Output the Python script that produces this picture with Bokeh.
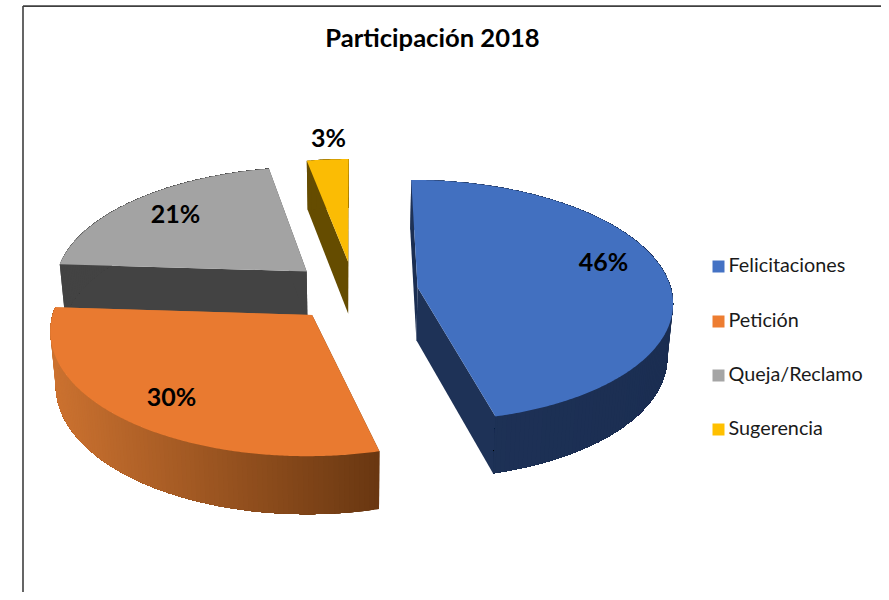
import numpy as np
from bokeh.plotting import figure
from bokeh.core.properties import value
from bokeh.embed import file_html
from bokeh.resources import INLINE

# ---- data ----
title = "Participación 2018"
categories = ["Felicitaciones", "Petición", "Queja/Reclamo", "Sugerencia"]
values = [46, 30, 21, 3]
top_colors = ["#4270C0", "#E97A30", "#A3A3A3", "#FBBC04"]
swatch_colors = ["#4472C4", "#ED7D31", "#A5A5A5", "#FFC000"]
wall_left = ["#1B2E52", "#693711", "#434343", "#654C00"]
wall_right = ["#1E3257", "#CC7230", "#434343", "#654C00"]

# ---- layout (pixel space of the picture) ----
W, H = 881, 592
CX, CY = 353.5, 290.6      # pie centre
RX, RY = 254.0, 120.0      # radii on the ground plane
EXPLODE = 0.253            # explosion distance in radii
PERSP = 0.11               # perspective strength
DEPTH = 53.0               # thickness of the pie
LEAN = 0.018               # walls lean toward the centre
label_pos = [(603, 260), (171, 395), (175, 212), (328, 136)]
legend_x_sw, legend_x_txt = 718, 728
legend_y = [266, 321, 375, 429]
legend_text_y = [263.5, 318.5, 372.5, 426.5]


def project(gx, gy, bottom=False):
    gx, gy = np.asarray(gx, float), np.asarray(gy, float)
    k = 1.0 / (1.0 + PERSP * gy)
    x = CX + RX * gx * k
    y = CY - RY * gy * k
    if bottom:
        y = y + DEPTH + (k - 1.0) * 33.0
        x = CX + (x - CX) * (1.0 - LEAN)
    return x, y


def hex2rgb(c):
    return np.array([int(c[i:i + 2], 16) for i in (1, 3, 5)], float)


p = figure(width=W, height=H, x_range=(0, W), y_range=(H, 0),
           output_backend="svg", toolbar_location=None, min_border=0,
           outline_line_color=None, background_fill_color="white",
           border_fill_color="white")
p.axis.visible = False
p.grid.visible = False

# chart frame
p.segment(x0=[22.5, 22.5], y0=[5.6, 5.6], x1=[22.5, W], y1=[H, 5.6],
          line_color="#3F3F3F", line_width=1.6)

# pie slices, far ones first, orange last because it covers the gray wall
total = float(sum(values))
cum = np.cumsum([0.0] + values) / total * 2 * np.pi
order = [3, 2, 0, 1]
for i in order:
    t0, t1 = cum[i], cum[i + 1]
    mid = 0.5 * (t0 + t1)
    ox, oy = EXPLODE * np.sin(mid), EXPLODE * np.cos(mid)
    th = np.linspace(t0, t1, max(int(np.degrees(t1 - t0)) * 2, 8))
    gx, gy = ox + np.sin(th), oy + np.cos(th)
    xt, yt = project(gx, gy)
    xb, yb = project(gx, gy, True)
    axt, ayt = project(ox, oy)
    axb, ayb = project(ox, oy, True)

    # radial walls
    for j, col in ((0, wall_left[i]), (-1, wall_right[i])):
        xs = [float(axt), float(xt[j]), float(xb[j]), float(axb)]
        ys = [float(ayt), float(yt[j]), float(yb[j]), float(ayb)]
        p.patch(xs, ys, fill_color=col, line_color=None)

    # outer wall: bands shaded across the x extent, each one running under
    # the next so that no seam shows
    c_a, c_b = hex2rgb(wall_left[i]), hex2rgb(wall_right[i])
    xmin, xmax = xt.min(), xt.max()
    n = len(th)
    step = 2
    for j in range(0, n - 1, step):
        f = (xmax - 0.5 * (xt[j] + xt[min(j + step, n - 1)])) / max(xmax - xmin, 1e-6)
        c = (c_a + (c_b - c_a) * f).round().astype(int)
        col = "#%02X%02X%02X" % tuple(c)
        p.patch(np.r_[xt[j:], xb[j:][::-1]], np.r_[yt[j:], yb[j:][::-1]],
                fill_color=col, line_color=None)

    # top face
    p.patch(np.r_[axt, xt], np.r_[ayt, yt], fill_color=top_colors[i],
            line_color=None)

# texts
p.text(x=[432], y=[36], text=[title], text_font=value("Lato"),
       text_font_style="bold", text_font_size="25.6px", text_color="#000000",
       text_align="center", text_baseline="middle")
p.text(x=[q[0] for q in label_pos], y=[q[1] for q in label_pos],
       text=[f"{v}%" for v in values], text_font=value("Lato"),
       text_font_style="bold", text_font_size="25px", text_color="#000000",
       text_align="center", text_baseline="middle")

# legend
p.rect(x=[legend_x_sw] * 4, y=legend_y, width=12, height=12,
       fill_color=swatch_colors, line_color=None)
p.text(x=[legend_x_txt] * 4, y=legend_text_y, text=categories,
       text_font=value("Lato"), text_font_size="19.8px", text_color="#1A1A1A",
       text_align="left", text_baseline="middle")

open("out.html", "w").write(file_html(p, INLINE))
